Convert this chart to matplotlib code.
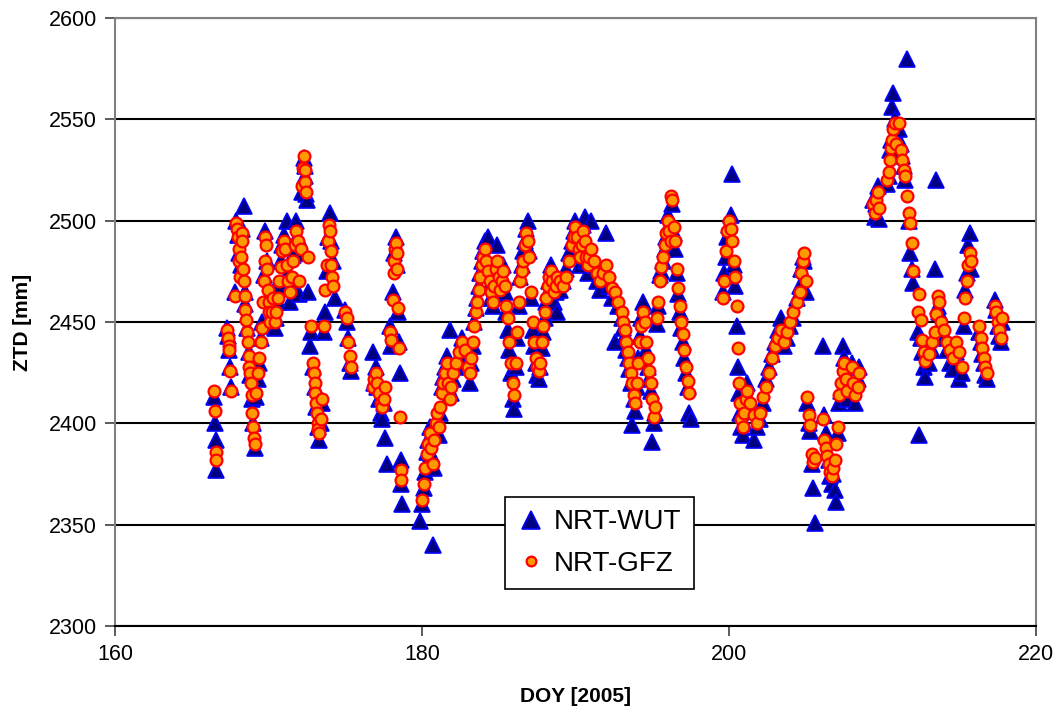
import numpy as np
import matplotlib.pyplot as plt

# NRT-WUT troposphere delays (DOY, ZTD in mm)
wut = [
    (166.45, 2413), (166.5, 2400), (166.55, 2392), (166.6, 2377),
    (167.3, 2447), (167.35, 2443), (167.4, 2436), (167.5, 2428), (167.55, 2418),
    (167.8, 2465), (167.9, 2500), (168.0, 2493), (168.1, 2484), (168.2, 2478), (168.3, 2496),
    (168.4, 2507), (168.45, 2465), (168.5, 2459), (168.6, 2447), (168.7, 2435), (168.8, 2424),
    (168.9, 2412), (169.0, 2400), (169.1, 2388), (169.2, 2413), (169.3, 2422), (169.4, 2430),
    (169.5, 2442), (169.6, 2450), (169.7, 2473), (169.8, 2495), (169.9, 2480), (170.0, 2462),
    (170.1, 2448), (170.2, 2452), (170.3, 2465), (170.4, 2447), (170.5, 2452), (170.6, 2460),
    (170.7, 2468), (170.8, 2480), (170.9, 2488), (171.0, 2493), (171.1, 2488), (171.2, 2500),
    (171.3, 2474), (171.4, 2460), (171.5, 2470), (171.6, 2483), (171.7, 2490), (171.8, 2500),
    (171.9, 2492), (172.0, 2464), (172.1, 2484), (172.2, 2514), (172.3, 2531), (172.35, 2527),
    (172.4, 2522), (172.45, 2513), (172.5, 2510), (172.6, 2465), (172.7, 2438), (172.8, 2445),
    (172.9, 2428), (173.0, 2418), (173.1, 2408), (173.2, 2398), (173.3, 2392), (173.4, 2400),
    (173.5, 2410), (173.6, 2445), (173.7, 2455), (173.8, 2475), (173.9, 2492), (174.0, 2504),
    (174.1, 2490), (174.2, 2480), (174.3, 2462), (175.0, 2456), (175.1, 2450), (175.2, 2442),
    (175.3, 2430), (175.4, 2426),
    (176.8, 2435), (176.9, 2420), (177.0, 2428), (177.1, 2418), (177.2, 2412), (177.3, 2405),
    (177.4, 2402), (177.5, 2410), (177.6, 2393), (177.7, 2380), (177.9, 2448), (178.0, 2438),
    (178.1, 2465), (178.2, 2484), (178.3, 2492), (178.4, 2478), (178.45, 2455), (178.5, 2440),
    (178.55, 2425), (178.6, 2382), (178.65, 2370), (178.7, 2360),
    (179.9, 2352), (180.0, 2360), (180.1, 2368), (180.2, 2376), (180.3, 2386), (180.4, 2392),
    (180.5, 2398), (180.6, 2385), (180.7, 2340), (180.8, 2378), (180.9, 2395), (181.0, 2402),
    (181.1, 2394), (181.2, 2405), (181.3, 2418), (181.4, 2423), (181.5, 2428), (181.6, 2433),
    (181.7, 2418), (181.8, 2446), (181.9, 2415), (182.0, 2422), (182.2, 2428), (182.4, 2433),
    (182.6, 2442), (182.8, 2438), (183.0, 2430), (183.1, 2420), (183.2, 2430), (183.3, 2438),
    (183.4, 2450), (183.5, 2457), (183.6, 2462), (183.7, 2468), (183.8, 2474), (183.9, 2480),
    (184.0, 2485), (184.1, 2490), (184.2, 2478), (184.3, 2492), (184.4, 2468), (184.5, 2462),
    (184.6, 2458), (184.7, 2470), (184.8, 2478), (184.9, 2488), (185.0, 2474), (185.1, 2464),
    (185.2, 2468), (185.3, 2478), (185.4, 2465), (185.5, 2455), (185.6, 2446), (185.7, 2436),
    (185.8, 2425), (185.9, 2412), (186.0, 2407), (186.1, 2428), (186.2, 2442), (186.3, 2458),
    (186.4, 2472), (186.5, 2478), (186.6, 2485), (186.7, 2490), (186.8, 2496), (186.9, 2500),
    (187.0, 2485), (187.1, 2462), (187.2, 2446), (187.3, 2438), (187.4, 2430), (187.5, 2424),
    (187.6, 2422), (187.7, 2428), (187.8, 2437), (187.9, 2445), (188.0, 2452), (188.1, 2460),
    (188.2, 2465), (188.3, 2470), (188.4, 2478), (188.5, 2468), (188.6, 2460), (188.7, 2465),
    (188.8, 2455), (189.0, 2466), (189.2, 2470), (189.4, 2476), (189.6, 2484), (189.8, 2490),
    (189.9, 2495), (190.0, 2500), (190.1, 2494), (190.2, 2484), (190.3, 2478), (190.4, 2485),
    (190.5, 2498), (190.6, 2502), (190.7, 2480), (190.8, 2474), (190.9, 2480), (191.0, 2500),
    (191.2, 2478), (191.4, 2470), (191.6, 2466), (191.8, 2476), (192.0, 2494), (192.2, 2468),
    (192.4, 2462), (192.6, 2440), (192.8, 2458), (193.0, 2452), (193.1, 2447), (193.2, 2443),
    (193.3, 2436), (193.4, 2432), (193.5, 2427), (193.6, 2420), (193.7, 2399), (193.8, 2412),
    (193.9, 2406), (194.0, 2418), (194.1, 2432), (194.2, 2443), (194.3, 2452), (194.4, 2460),
    (194.5, 2452), (194.6, 2436), (194.7, 2428), (194.8, 2422), (194.9, 2416), (195.0, 2391),
    (195.1, 2400), (195.2, 2405), (195.3, 2449), (195.4, 2458), (195.5, 2473), (195.6, 2475),
    (195.7, 2480), (195.8, 2486), (195.9, 2492), (196.0, 2503), (196.1, 2498), (196.2, 2488),
    (196.3, 2508), (196.4, 2494), (196.5, 2486), (196.6, 2474), (196.7, 2464), (196.8, 2455),
    (196.9, 2447), (197.0, 2440), (197.1, 2432), (197.2, 2425), (197.3, 2418), (197.4, 2405),
    (197.5, 2402),
    (199.6, 2465), (199.7, 2474), (199.8, 2482), (199.9, 2492), (200.0, 2498), (200.1, 2503),
    (200.2, 2523), (200.3, 2478), (200.4, 2468), (200.5, 2448), (200.6, 2428), (200.65, 2415),
    (200.7, 2405), (200.8, 2398), (200.9, 2394), (201.0, 2400), (201.1, 2410), (201.2, 2420),
    (201.4, 2406), (201.6, 2392), (201.8, 2398), (202.0, 2402), (202.2, 2410), (202.4, 2422),
    (202.6, 2428), (202.8, 2434), (203.0, 2440), (203.2, 2446), (203.4, 2452), (203.6, 2438),
    (203.8, 2442), (204.0, 2448), (204.2, 2452), (204.4, 2462), (204.6, 2468), (204.7, 2476),
    (204.8, 2482), (204.9, 2480), (205.0, 2465), (205.1, 2410), (205.2, 2400), (205.3, 2396),
    (205.4, 2380), (205.5, 2368), (205.6, 2351),
    (206.1, 2438), (206.2, 2404), (206.3, 2395), (206.4, 2386), (206.5, 2382), (206.6, 2374),
    (206.7, 2370), (206.8, 2375), (206.9, 2367), (207.0, 2361), (207.1, 2395), (207.2, 2410),
    (207.3, 2416), (207.4, 2438), (207.5, 2432), (207.6, 2420), (207.7, 2412), (208.0, 2430),
    (208.1, 2418), (208.2, 2410), (208.4, 2422), (208.5, 2428),
    (209.4, 2510), (209.5, 2502), (209.6, 2508), (209.7, 2517), (209.8, 2501), (210.3, 2518),
    (210.4, 2522), (210.5, 2535), (210.55, 2540), (210.6, 2556), (210.7, 2563), (210.8, 2550),
    (210.9, 2535), (211.1, 2545), (211.2, 2538), (211.3, 2532), (211.4, 2527), (211.5, 2520),
    (211.6, 2580), (211.7, 2500), (211.8, 2484), (211.9, 2476), (212.0, 2469), (212.3, 2445),
    (212.4, 2394), (212.5, 2442), (212.6, 2435), (212.7, 2428), (212.8, 2423), (213.0, 2430),
    (213.2, 2436), (213.4, 2476), (213.5, 2520), (213.6, 2458), (213.7, 2455), (213.8, 2447),
    (214.0, 2442), (214.2, 2436), (214.4, 2430), (214.6, 2427), (214.8, 2435), (215.0, 2422),
    (215.2, 2425), (215.3, 2448), (215.4, 2466), (215.5, 2474), (215.6, 2488), (215.7, 2494),
    (215.8, 2476), (216.3, 2445), (216.4, 2440), (216.5, 2434), (216.6, 2430), (216.7, 2424),
    (216.8, 2422), (217.3, 2461), (217.4, 2456), (217.5, 2448), (217.6, 2443), (217.7, 2440),
    (217.8, 2450),
]

# NRT-GFZ troposphere delays (DOY, ZTD in mm)
gfz = [
    (166.45, 2416), (166.5, 2406), (166.55, 2386), (166.6, 2382),
    (167.3, 2446), (167.35, 2442), (167.4, 2438), (167.45, 2436), (167.5, 2426), (167.55, 2416),
    (167.8, 2463), (167.9, 2499), (167.95, 2496), (168.0, 2492), (168.05, 2486), (168.1, 2480),
    (168.15, 2472), (168.2, 2482), (168.25, 2494), (168.3, 2490), (168.35, 2476), (168.4, 2470),
    (168.45, 2463), (168.5, 2456), (168.55, 2451), (168.6, 2445), (168.65, 2440), (168.7, 2433),
    (168.75, 2428), (168.8, 2425), (168.85, 2420), (168.9, 2414), (168.95, 2405), (169.0, 2398),
    (169.05, 2393), (169.1, 2390), (169.2, 2415), (169.3, 2425), (169.4, 2432), (169.5, 2440),
    (169.6, 2447), (169.65, 2460), (169.7, 2470), (169.75, 2480), (169.8, 2492), (169.85, 2488),
    (169.9, 2476), (169.95, 2466), (170.0, 2460), (170.05, 2455), (170.1, 2450), (170.2, 2455),
    (170.3, 2462), (170.4, 2450), (170.5, 2455), (170.6, 2462), (170.7, 2470), (170.8, 2477),
    (170.9, 2485), (171.0, 2490), (171.1, 2486), (171.2, 2478), (171.3, 2470), (171.4, 2465),
    (171.5, 2472), (171.6, 2480), (171.7, 2488), (171.8, 2495), (171.9, 2490), (172.0, 2470),
    (172.1, 2486), (172.2, 2517), (172.25, 2526), (172.3, 2532), (172.35, 2525), (172.4, 2519),
    (172.45, 2514), (172.6, 2482), (172.8, 2448), (172.9, 2430), (172.95, 2425), (173.0, 2420),
    (173.05, 2415), (173.1, 2410), (173.15, 2405), (173.2, 2400), (173.25, 2397), (173.3, 2395),
    (173.4, 2402), (173.5, 2412), (173.6, 2448), (173.7, 2466), (173.8, 2478), (173.9, 2490),
    (173.95, 2498), (174.0, 2495), (174.05, 2485), (174.1, 2478), (174.15, 2472), (174.2, 2468),
    (175.0, 2455), (175.1, 2452), (175.2, 2440), (175.3, 2433), (175.4, 2428),
    (176.8, 2418), (176.9, 2422), (177.0, 2425), (177.1, 2420), (177.2, 2415), (177.3, 2410),
    (177.4, 2408), (177.5, 2412), (177.6, 2418), (177.9, 2445), (178.0, 2441), (178.1, 2461),
    (178.15, 2474), (178.2, 2480), (178.25, 2486), (178.3, 2489), (178.35, 2484), (178.4, 2476),
    (178.45, 2457), (178.5, 2437), (178.55, 2403), (178.6, 2377), (178.65, 2372),
    (180.0, 2362), (180.1, 2370), (180.2, 2378), (180.3, 2385), (180.4, 2390), (180.5, 2395),
    (180.6, 2388), (180.7, 2380), (180.8, 2392), (180.9, 2400), (181.0, 2405), (181.1, 2398),
    (181.2, 2408), (181.3, 2415), (181.4, 2420), (181.5, 2425), (181.6, 2430), (181.7, 2420),
    (181.8, 2412), (181.9, 2418), (182.0, 2425), (182.2, 2430), (182.4, 2435), (182.6, 2440),
    (182.8, 2436), (183.0, 2428), (183.1, 2425), (183.2, 2432), (183.3, 2440), (183.4, 2448),
    (183.5, 2455), (183.6, 2460), (183.7, 2466), (183.8, 2472), (183.9, 2478), (184.0, 2482),
    (184.1, 2486), (184.2, 2480), (184.3, 2475), (184.4, 2470), (184.5, 2465), (184.6, 2460),
    (184.7, 2468), (184.8, 2476), (184.9, 2480), (185.0, 2472), (185.1, 2466), (185.2, 2470),
    (185.3, 2475), (185.4, 2468), (185.5, 2458), (185.6, 2452), (185.7, 2440), (185.8, 2430),
    (185.9, 2420), (186.0, 2414), (186.1, 2430), (186.2, 2445), (186.3, 2460), (186.4, 2470),
    (186.5, 2475), (186.6, 2480), (186.7, 2488), (186.8, 2494), (186.9, 2490), (187.0, 2482),
    (187.1, 2465), (187.2, 2450), (187.3, 2440), (187.4, 2432), (187.5, 2428), (187.6, 2426),
    (187.7, 2430), (187.8, 2440), (187.9, 2448), (188.0, 2455), (188.1, 2462), (188.2, 2468),
    (188.3, 2472), (188.4, 2475), (188.5, 2470), (188.6, 2465), (188.7, 2468), (188.8, 2472),
    (189.0, 2470), (189.2, 2468), (189.4, 2472), (189.6, 2480), (189.8, 2488), (189.9, 2492),
    (190.0, 2497), (190.1, 2492), (190.2, 2486), (190.3, 2482), (190.4, 2488), (190.5, 2495),
    (190.6, 2490), (190.7, 2482), (190.8, 2478), (190.9, 2482), (191.0, 2486), (191.2, 2480),
    (191.4, 2474), (191.6, 2470), (191.8, 2474), (192.0, 2478), (192.2, 2472), (192.4, 2467),
    (192.6, 2465), (192.8, 2460), (193.0, 2455), (193.1, 2450), (193.2, 2446), (193.3, 2440),
    (193.4, 2435), (193.5, 2430), (193.6, 2425), (193.7, 2420), (193.8, 2414), (193.9, 2410),
    (194.0, 2420), (194.1, 2430), (194.2, 2440), (194.3, 2448), (194.4, 2455), (194.5, 2450),
    (194.6, 2440), (194.7, 2432), (194.8, 2426), (194.9, 2420), (195.0, 2412), (195.1, 2403),
    (195.2, 2408), (195.3, 2452), (195.4, 2460), (195.5, 2470), (195.6, 2477), (195.7, 2482),
    (195.8, 2488), (195.9, 2494), (196.0, 2500), (196.1, 2495), (196.2, 2490), (196.25, 2512),
    (196.3, 2510), (196.4, 2497), (196.5, 2490), (196.6, 2476), (196.7, 2467), (196.8, 2458),
    (196.9, 2450), (197.0, 2444), (197.1, 2436), (197.2, 2428), (197.3, 2421), (197.4, 2415),
    (199.6, 2462), (199.7, 2470), (199.8, 2485), (199.9, 2495), (200.0, 2500), (200.1, 2496),
    (200.2, 2490), (200.3, 2480), (200.4, 2472), (200.5, 2458), (200.6, 2437), (200.65, 2420),
    (200.7, 2410), (200.8, 2402), (200.9, 2398), (201.0, 2405), (201.1, 2412), (201.2, 2416),
    (201.4, 2410), (201.6, 2404), (201.8, 2400), (202.0, 2405), (202.2, 2413), (202.4, 2418),
    (202.6, 2425), (202.8, 2432), (203.0, 2438), (203.2, 2442), (203.4, 2446), (203.6, 2440),
    (203.8, 2445), (204.0, 2450), (204.2, 2455), (204.4, 2460), (204.6, 2465), (204.7, 2474),
    (204.8, 2480), (204.9, 2484), (205.0, 2470), (205.1, 2413), (205.2, 2404), (205.3, 2399),
    (205.4, 2385), (205.5, 2381), (205.6, 2383),
    (206.1, 2402), (206.2, 2392), (206.3, 2388), (206.4, 2384), (206.5, 2380), (206.6, 2376),
    (206.7, 2374), (206.8, 2378), (206.9, 2382), (207.0, 2390), (207.1, 2398), (207.2, 2414),
    (207.3, 2420), (207.4, 2426), (207.5, 2430), (207.6, 2422), (207.7, 2416), (208.0, 2428),
    (208.1, 2420), (208.2, 2414), (208.4, 2418), (208.5, 2425),
    (209.4, 2508), (209.5, 2504), (209.6, 2510), (209.7, 2514), (209.8, 2506), (210.3, 2520),
    (210.4, 2524), (210.5, 2530), (210.55, 2536), (210.6, 2540), (210.7, 2545), (210.8, 2548),
    (210.9, 2538), (211.1, 2548), (211.2, 2535), (211.3, 2530), (211.4, 2525), (211.5, 2522),
    (211.6, 2512), (211.7, 2504), (211.8, 2499), (211.9, 2489), (212.0, 2475), (212.3, 2455),
    (212.4, 2464), (212.5, 2451), (212.6, 2441), (212.7, 2435), (212.8, 2431), (213.0, 2434),
    (213.2, 2440), (213.4, 2445), (213.5, 2454), (213.6, 2463), (213.7, 2460), (213.8, 2450),
    (214.0, 2446), (214.2, 2440), (214.4, 2436), (214.6, 2432), (214.8, 2440), (215.0, 2435),
    (215.2, 2428), (215.3, 2452), (215.4, 2462), (215.5, 2470), (215.6, 2478), (215.7, 2484),
    (215.8, 2480), (216.3, 2448), (216.4, 2442), (216.5, 2437), (216.6, 2432), (216.7, 2428),
    (216.8, 2425), (217.3, 2458), (217.4, 2455), (217.5, 2450), (217.6, 2446), (217.7, 2442),
    (217.8, 2452),
]

wut_doy, wut_ztd = np.array(wut).T
gfz_doy, gfz_ztd = np.array(gfz).T

plt.rcParams['font.family'] = ['Liberation Sans', 'DejaVu Sans']

fig = plt.figure(figsize=(10.61, 7.13), dpi=100)
ax = fig.add_axes([0.1084, 0.122, 0.868, 0.8528])

ax.plot(wut_doy, wut_ztd, linestyle='none', marker='^', markersize=12,
        markerfacecolor='#000080', markeredgecolor='#0000ff', markeredgewidth=1.2,
        label='NRT-WUT', zorder=3)
ax.plot(gfz_doy, gfz_ztd, linestyle='none', marker='o', markersize=8.5,
        markerfacecolor='#ff9900', markeredgecolor='#ff0000', markeredgewidth=1.6,
        label='NRT-GFZ', zorder=4)

ax.set_xlim(160, 220)
ax.set_ylim(2300, 2600)
ax.set_xticks([160, 180, 200, 220])
ax.set_yticks(np.arange(2300, 2601, 50))
ax.yaxis.grid(True, color='black', linewidth=1.5)
ax.set_axisbelow(True)

for s in ['left', 'right', 'top']:
    ax.spines[s].set_color('#808080')
    ax.spines[s].set_linewidth(1.5)
ax.spines['bottom'].set_color('black')
ax.spines['bottom'].set_linewidth(1.5)
ax.tick_params(axis='both', direction='out', length=7, width=1.2, color='#404040',
               labelsize=15.5, pad=6)

ax.set_xlabel('DOY [2005]', fontsize=15, fontweight='bold', labelpad=16)
ax.set_ylabel('ZTD [mm]', fontsize=15, fontweight='bold', labelpad=12)

leg = ax.legend(loc='upper left', bbox_to_anchor=(0.4235, 0.2122), fontsize=20,
                frameon=True, fancybox=False, framealpha=1, edgecolor='black',
                handlelength=1.0, handletextpad=0.3, borderpad=0.45, labelspacing=0.55,
                borderaxespad=0)
leg.get_frame().set_linewidth(1.2)
leg.legend_handles[0].set_markersize(13)
leg.legend_handles[1].set_markersize(7)

fig.savefig('out.png', dpi=100)
